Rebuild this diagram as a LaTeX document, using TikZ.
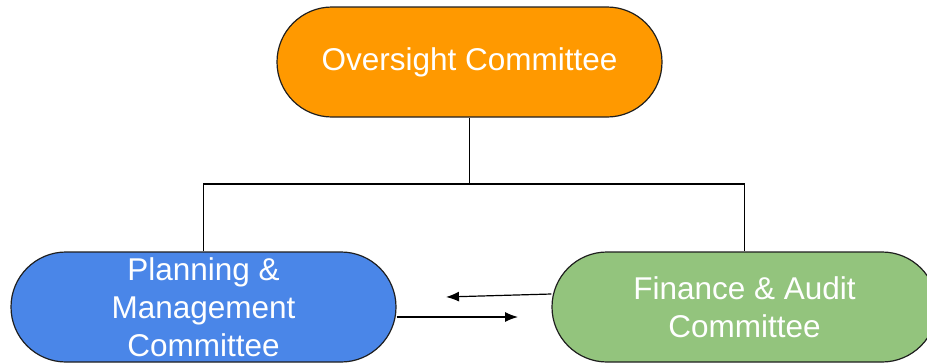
\documentclass[tikz,border=0pt]{standalone}
\usepackage{fontspec}
\setmainfont{Liberation Sans}
\usetikzlibrary{arrows.meta}
\definecolor{cOrange}{HTML}{FF9900}
\definecolor{cBlue}{HTML}{4A86E8}
\definecolor{cGreen}{HTML}{93C47D}
\definecolor{cLine}{HTML}{1F1F1F}
\tikzset{
  pill/.style={draw=cLine, line width=1.2pt, rectangle, rounded corners=55pt,
    minimum width=385pt, minimum height=110pt, inner sep=0pt,
    text=white, align=center, font=\fontsize{31.5}{38}\selectfont},
  conn/.style={draw=black, line width=1.2pt},
  arr/.style={conn, -{Latex[length=13pt,width=10pt]}}
}
\begin{document}
\begin{tikzpicture}[x=1pt,y=-1pt]
\useasboundingbox (0,0) rectangle (927,362);
\node[pill, fill=cOrange] (over) at (469.5,62) {Oversight Committee};
\node[pill, fill=cBlue] (plan) at (203.5,307) {Planning \&\\Management\\Committee};
\node[pill, fill=cGreen] (fin) at (744.5,307) {Finance \& Audit\\Committee};
\coordinate (j) at (469.5,184);
\coordinate (a1) at (446,297);
\coordinate (a2) at (518,317);
\draw[conn] (over.south) -- (j);
\draw[conn] (j) -| (plan.north);
\draw[conn] (j) -| (fin.north);
\draw[arr] ([yshift=13pt]fin.west) -- (a1);
\draw[arr] ([yshift=-10pt]plan.east) -- (a2);
\end{tikzpicture}
\end{document}
